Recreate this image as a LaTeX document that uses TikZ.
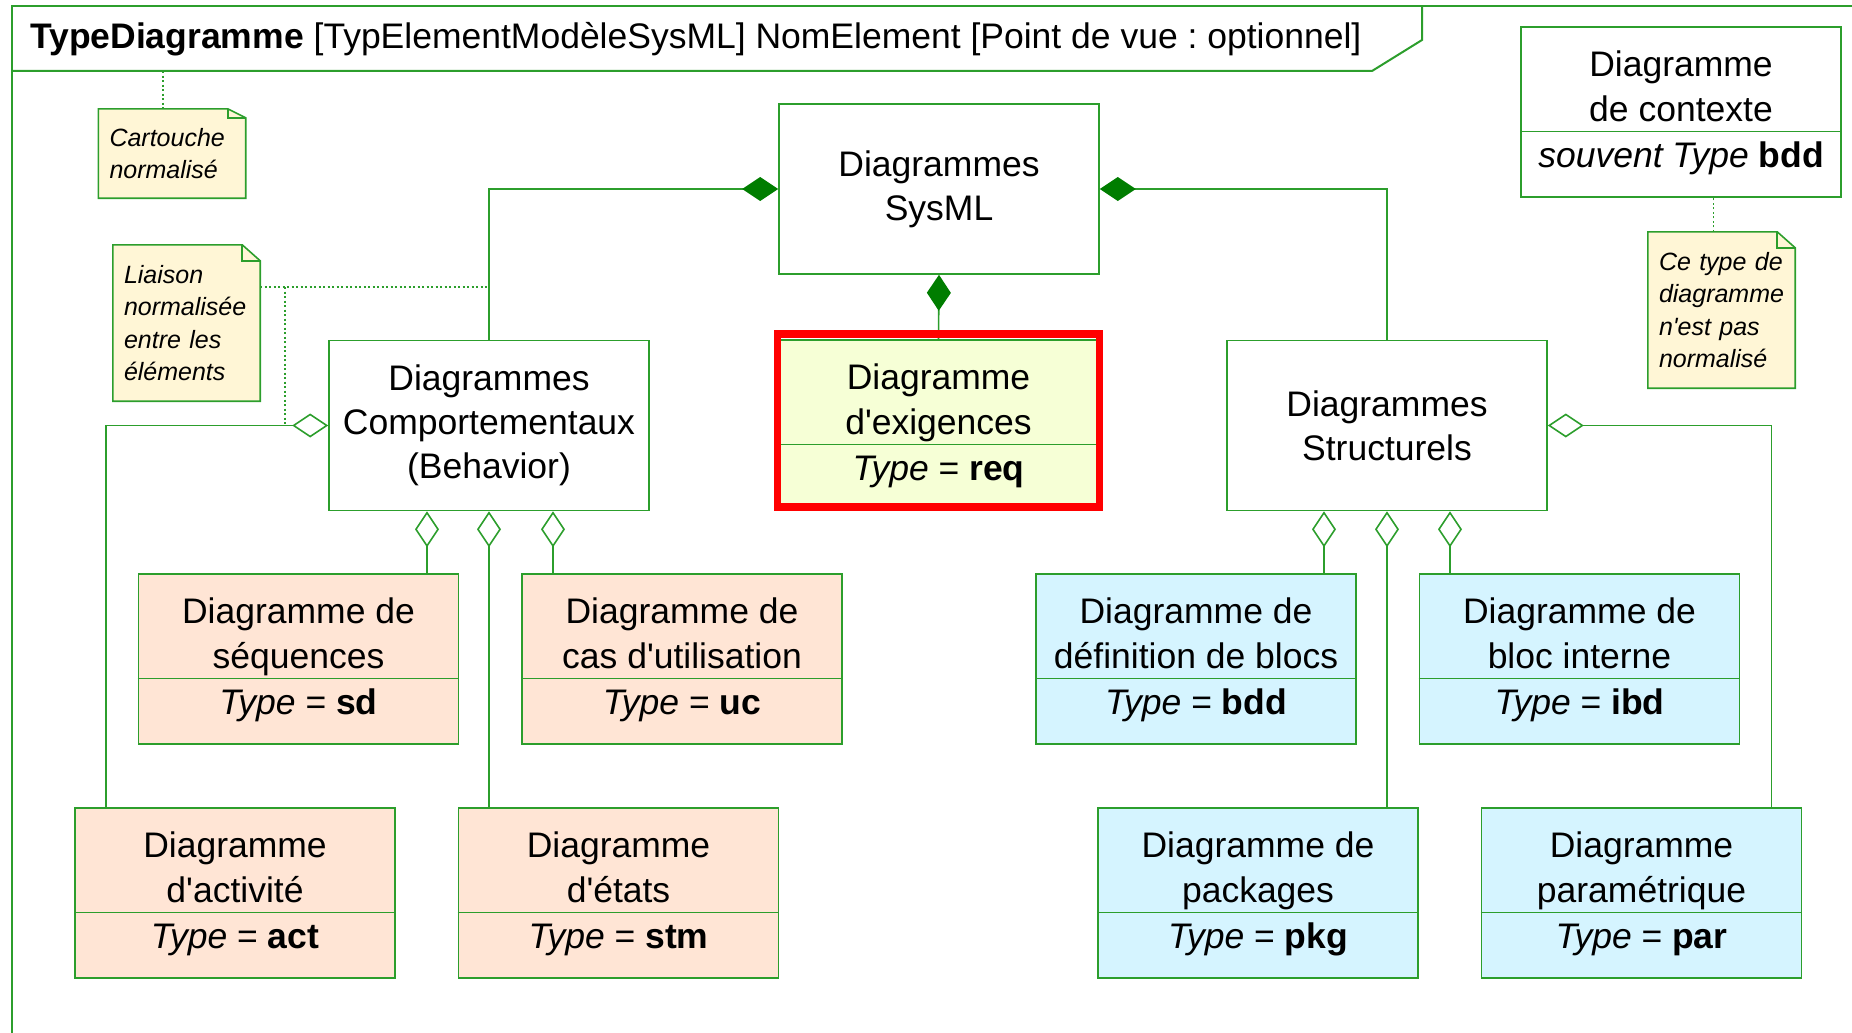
\documentclass[tikz,border=0pt]{standalone}
\usepackage{fontspec}
\setmainfont{Liberation Sans}
\usetikzlibrary{arrows.meta,backgrounds}
\frenchspacing

\definecolor{umlgreen}{RGB}{44,158,44}
\definecolor{darkdiam}{RGB}{0,125,0}
\definecolor{peach}{RGB}{255,229,213}
\definecolor{skyfill}{RGB}{213,244,255}
\definecolor{reqfill}{RGB}{246,255,214}
\definecolor{notefill}{RGB}{255,246,214}

\tikzset{
  umlline/.style={draw=umlgreen, line width=1.6pt},
  classbox/.style={umlline, rectangle, minimum width=320pt, minimum height=170pt, inner sep=0pt},
  bigbox/.style={classbox, fill=white, align=center, font=\fontsize{35.5}{44}\selectfont},
  boxtext/.style={anchor=base, inner sep=0pt, font=\fontsize{35.5}{44}\selectfont},
  notebox/.style={text width=125pt, inner xsep=11pt, inner ysep=0pt, minimum height=#1, align=left, font=\fontsize{25}{32.5}\selectfont\itshape},
  noteline/.style={umlgreen, line width=1.3pt, dash pattern=on 2pt off 2.5pt},
  compo/.style={umlline, -{Diamond[length=36pt, width=24pt, color=darkdiam, fill=darkdiam]}},
  aggr/.style={umlline, -{Diamond[open, length=36pt, width=24pt]}},
}

% boite de diagramme : nom, position (x,haut), couleur, ligne 1, ligne 2, type
\newcommand{\typebox}[6]{%
  \node[classbox, fill=#3, anchor=north] (#1) at (#2) {};
  \draw[umlline] ([yshift=-105.5pt]#1.north west) -- ([yshift=-105.5pt]#1.north east);
  \node[boxtext] (#1A) at ([yshift=-50.5pt]#1.north) {#4};
  \node[boxtext] (#1B) at ([yshift=-95pt]#1.north) {#5};
  \node[boxtext] (#1C) at ([yshift=-141pt]#1.north) {#6};
}

\begin{document}
\begin{tikzpicture}[x=1pt, y=-1pt]
    \useasboundingbox (0,0) rectangle (1852,1033);
    % cadre et cartouche
    \draw[umlgreen, line width=2pt] (12,1033) -- (12,6) -- (1852,6);
    \draw[umlgreen, line width=2pt] (12,71) -- (1372,71) -- (1422,40) -- (1422,6);
    \node[anchor=base west, inner sep=0pt, font=\fontsize{35.5}{40}\selectfont] (Title) at (30,48.5)
      {\textbf{TypeDiagramme} [TypElementModèleSysML] NomElement [Point de vue : optionnel]};

    \node[bigbox] (SysML) at (939,189) {Diagrammes\\SysML};
    \node[bigbox] (Comp) at (489,425.5) {Diagrammes\\Comportementaux\\(Behavior)};
    \node[bigbox] (Struct) at (1387,425.5) {Diagrammes\\Structurels};

    \typebox{Req}{938.5,339}{reqfill}{Diagramme}{d\textquotesingle exigences}{\textit{Type} = \textbf{req}}
    \typebox{Seq}{298.5,573}{peach}{Diagramme de}{séquences}{\textit{Type} = \textbf{sd}}
    \typebox{UC}{682,573}{peach}{Diagramme de}{cas d\textquotesingle utilisation}{\textit{Type} = \textbf{uc}}
    \typebox{Act}{235,807}{peach}{Diagramme}{d\textquotesingle activité}{\textit{Type} = \textbf{act}}
    \typebox{Stm}{618.5,807}{peach}{Diagramme}{d\textquotesingle états}{\textit{Type} = \textbf{stm}}
    \typebox{Bdd}{1196,573}{skyfill}{Diagramme de}{définition de blocs}{\textit{Type} = \textbf{bdd}}
    \typebox{Ibd}{1579.5,573}{skyfill}{Diagramme de}{bloc interne}{\textit{Type} = \textbf{ibd}}
    \typebox{Pkg}{1258,807}{skyfill}{Diagramme de}{packages}{\textit{Type} = \textbf{pkg}}
    \typebox{Par}{1641.5,807}{skyfill}{Diagramme}{paramétrique}{\textit{Type} = \textbf{par}}
    \typebox{Ctx}{1681,26}{white}{Diagramme}{de contexte}{\textit{souvent Type} \textbf{bdd}}

    % notes
    \node[notebox=89pt] (NCart) at (172,153.5) {Cartouche\\normalisé};
    \node[notebox=156pt] (NLiaison) at (186.5,323) {Liaison\\normalisée\\entre les\\éléments};
    \node[notebox=156pt] (NCtx) at (1721.5,310) {Ce type de\\diagramme\\n\textquotesingle est pas\\normalisé};
    \begin{scope}[on background layer]
      \foreach \n/\f in {NCart/9, NLiaison/16, NCtx/16} {
        \draw[umlline, fill=notefill] (\n.north west) -- ([xshift=-18pt]\n.north east)
          -- ([yshift=-\f pt]\n.north east) -- (\n.south east) -- (\n.south west) -- cycle;
        \draw[umlline] ([xshift=-18pt]\n.north east) |- ([yshift=-\f pt]\n.north east);
      }
    \end{scope}

    % compositions
    \draw[compo] (Comp.north) |- (SysML.west);
    \draw[compo] (Struct.north) |- (SysML.east);
    \draw[compo] (Req.north) -- (SysML.south);

    % agregations
    \coordinate (CL) at ([xshift=-62pt]Comp.south);
    \coordinate (CR) at ([xshift=64pt]Comp.south);
    \draw[aggr] (Seq.north -| CL) -- (CL);
    \draw[aggr] (UC.north -| CR) -- (CR);
    \draw[aggr] (Stm.north -| Comp.south) -- (Comp.south);
    \draw[aggr] ([xshift=32pt]Act.north west) |- (Comp.west);
    \coordinate (SL) at ([xshift=-63pt]Struct.south);
    \coordinate (SR) at ([xshift=63pt]Struct.south);
    \draw[aggr] (Bdd.north -| SL) -- (SL);
    \draw[aggr] (Ibd.north -| SR) -- (SR);
    \draw[aggr] (Pkg.north -| Struct.south) -- (Struct.south);
    \draw[aggr] ([xshift=-31pt]Par.north east) |- (Struct.east);

    % exigences mises en avant
    \draw[red, line width=7.5pt] ([yshift=5pt]Req.north west) rectangle ([yshift=3.5pt]Req.south east);

    % liens des notes
    \coordinate (TabFoot) at (163,71);
    \draw[noteline] (TabFoot) -- (TabFoot |- NCart.north);
    \coordinate (LK) at (285,287);
    \draw[noteline] (NLiaison.east |- LK) -- (Comp.north |- LK);
    \draw[noteline] (LK) -- (LK |- Comp.west);
    \draw[noteline] ([xshift=-8pt]NCtx.north) -- ([xshift=-8pt]NCtx.north |- Ctx.south);
  \end{tikzpicture}
\end{document}
